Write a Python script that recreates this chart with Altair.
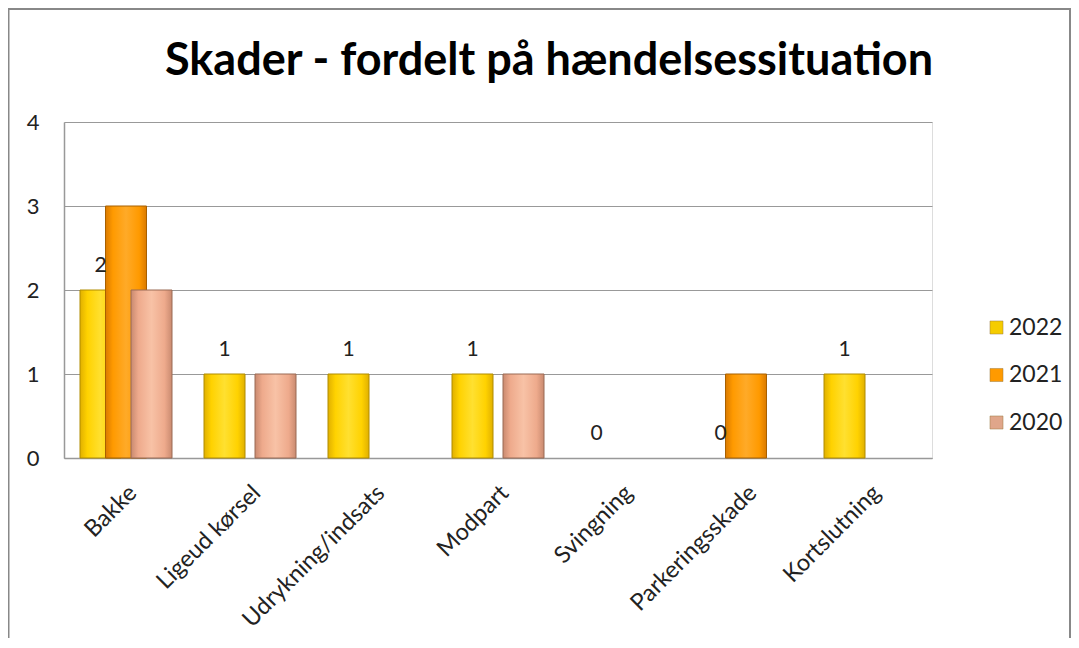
import altair as alt
import pandas as pd

categories = ["Bakke", "Ligeud kørsel", "Udrykning/indsats", "Modpart",
              "Svingning", "Parkeringsskade", "Kortslutning"]
years = ["2022", "2021", "2020"]
v2022 = [2, 1, 1, 1, 0, 0, 1]
v2021 = [3, 0, 0, 0, 0, 1, 0]
v2020 = [2, 1, 0, 1, 0, 0, 0]

series = {"2022": v2022, "2021": v2021, "2020": v2020}
rows = []
for y in years:
    for c, v in zip(categories, series[y]):
        rows.append({"kategori": c, "år": y, "antal": v})
df = pd.DataFrame(rows)

FONT = "Lato"
colors = {
    "2022": ("#E0B000", "#FFD200", "#FFE030"),
    "2021": ("#DA7A00", "#FF9A00", "#FFAA28"),
    "2020": ("#C98A70", "#EEAA8C", "#F8C2A6"),
}
strokes = {"2022": "#B08C00", "2021": "#A86000", "2020": "#9A6A55"}
legend_colors = ["#F5CC00", "#FF9A00", "#E0A68A"]
offsets = {"2022": -25.5, "2021": 0, "2020": 25.5}

W, H = 868, 336

x_enc = alt.X("kategori:N", sort=categories,
              scale=alt.Scale(paddingInner=0, paddingOuter=0),
              axis=alt.Axis(title=None, labelAngle=-45, labelAlign="right",
                            labelBaseline="middle", labelPadding=31, labelOffset=7,
                            labelFontSize=23.5, labelFont=FONT, labelColor="#222",
                            labelOverlap=False, labelBound=False, labelLimit=400,
                            ticks=False, domainColor="#999", domainWidth=1.5))
y_enc = alt.Y("antal:Q", scale=alt.Scale(domain=[0, 4], nice=False),
              axis=alt.Axis(title=None, values=[0, 1, 2, 3, 4],
                            labelOverlap=False,
                            labelFontSize=22, labelFont=FONT, labelColor="#222",
                            labelPadding=25, ticks=False, domainColor="#999",
                            domainWidth=1.5, gridColor="#999", gridWidth=1.2))

base = alt.Chart(df)

frame = base.mark_rect(fill="transparent", stroke="#888", strokeWidth=2).encode(
    x=alt.value(-55.5), x2=alt.value(1006), y=alt.value(-113), y2=alt.value(580)
).transform_filter("datum.kategori == 'Bakke' && datum['år'] == '2022'")

layers = [frame]
for yr in years:
    dark, mid, light = colors[yr]
    grad = alt.Gradient(
        gradient="linear", x1=0, x2=1, y1=0, y2=0,
        stops=[alt.GradientStop(color=dark, offset=0),
               alt.GradientStop(color=mid, offset=0.18),
               alt.GradientStop(color=light, offset=0.5),
               alt.GradientStop(color=mid, offset=0.82),
               alt.GradientStop(color=dark, offset=1)])
    layers.append(
        base.transform_filter(f"datum['år'] == '{yr}' && datum.antal > 0")
        .mark_bar(fill=grad, stroke=strokes[yr], strokeWidth=1,
                  width=41, xOffset=offsets[yr])
        .encode(x=x_enc, y=y_enc)
    )

labels = base.transform_filter("datum['år'] == '2022'").mark_text(
    baseline="alphabetic", dy=-18, xOffset=-25.5, fontSize=21, font=FONT,
    color="#222").encode(x=x_enc, y=y_enc, text="antal:Q")
layers.append(labels)

legend_layer = base.mark_square(opacity=0, size=10).encode(
    x=x_enc, y=y_enc,
    color=alt.Color("år:N", scale=alt.Scale(domain=years, range=legend_colors),
                    sort=years,
                    legend=alt.Legend(title=None, orient="none", legendX=921,
                                      legendY=194, symbolType="square",
                                      symbolSize=170, symbolOpacity=1,
                                      symbolStrokeColor="#9a7a40",
                                      symbolStrokeWidth=0.5,
                                      labelFontSize=23, labelFont=FONT,
                                      labelColor="#222", rowPadding=23.5,
                                      labelOffset=1)))
layers.append(legend_layer)

chart = alt.layer(*layers).properties(
    width=W, height=H,
    title=alt.TitleParams("Skader - fordelt på hændelsessituation",
                          font=FONT, fontSize=45, fontWeight="bold",
                          color="#000", anchor="middle", frame="group",
                          baseline="alphabetic", dx=51, offset=-112),
    autosize=alt.AutoSizeParams(type="none"),
    padding={"left": 56, "top": 114, "right": 139, "bottom": 180},
).configure_view(stroke=None).configure(background="white")

chart.save("out.html", embed_options={"renderer": "svg", "actions": False})
